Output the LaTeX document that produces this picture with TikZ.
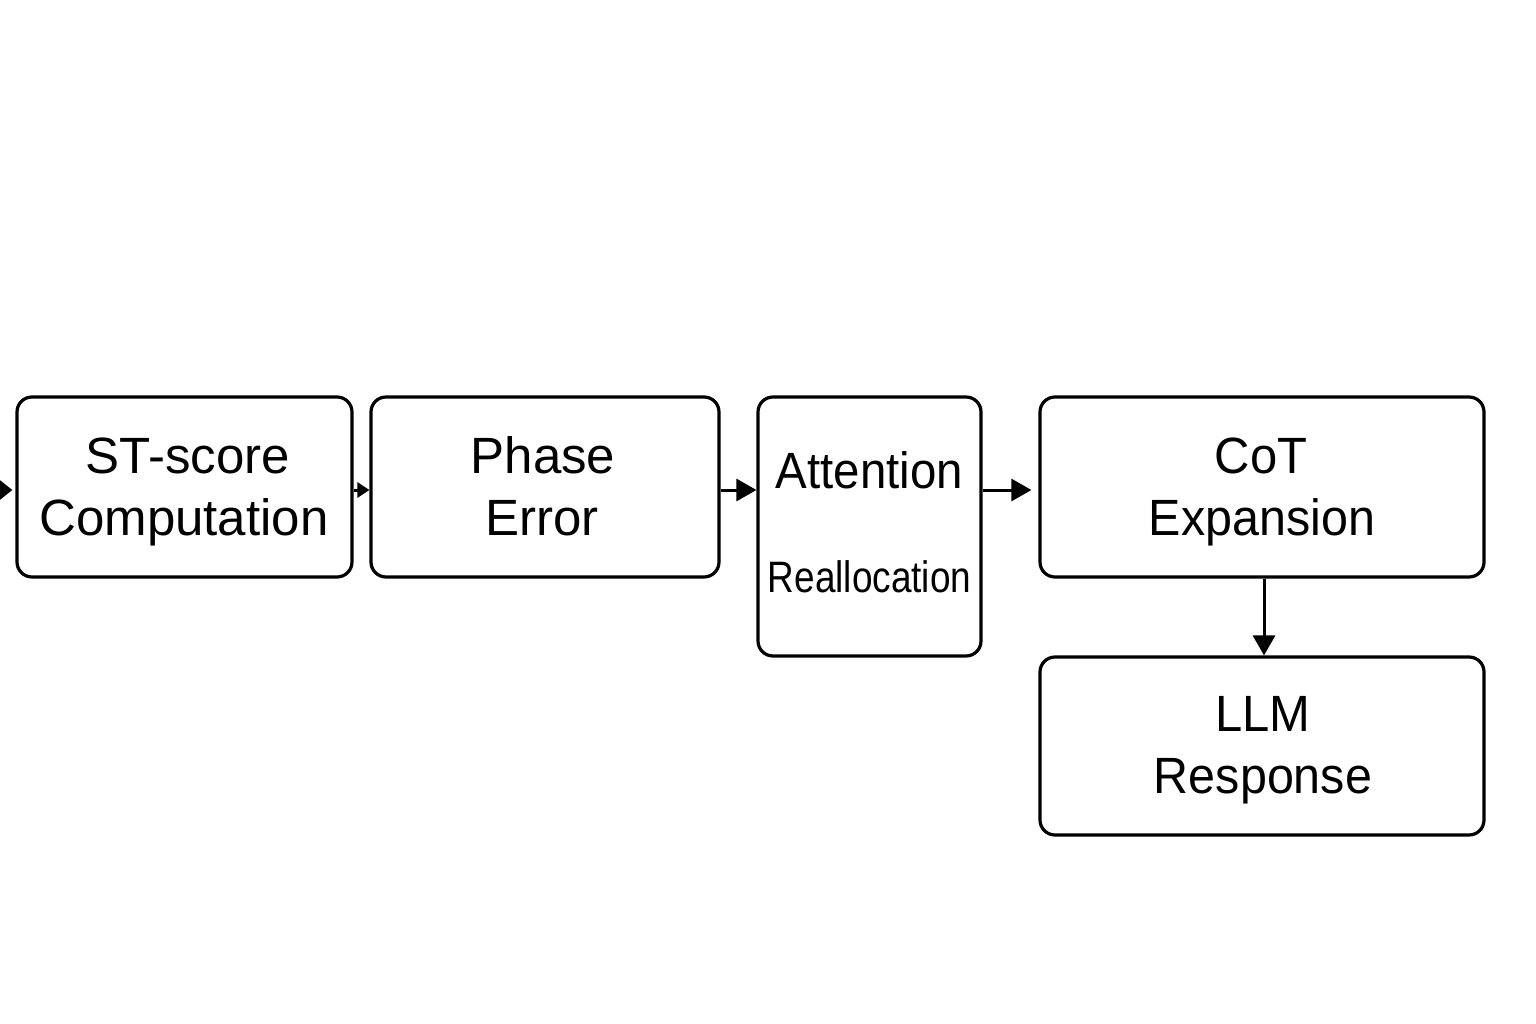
\documentclass[tikz,border=0pt]{standalone}
\usepackage{fontspec}
\setmainfont{Liberation Sans}
\usetikzlibrary{arrows.meta}
\tikzset{
  blk/.style={draw=black, line width=3.2pt, rounded corners=15pt, fill=white, inner sep=0pt},
  lbl/.style={inner sep=0pt, anchor=base, font=\fontsize{51}{62}\selectfont},
  conn/.style={line width=3pt, -{Triangle[length=20pt,width=22pt]}},
  smallconn/.style={line width=3pt, -{Triangle[length=12pt,width=15pt]}}
}
\begin{document}
\begin{tikzpicture}[x=1pt,y=-1pt]
\useasboundingbox (0,0) rectangle (1536,1024);
% boxes
\node[blk, minimum width=335pt, minimum height=180pt] (st) at (184.5,487) {};
\node[blk, minimum width=348pt, minimum height=180pt] (ph) at (545,487) {};
\node[blk, minimum width=223pt, minimum height=259pt] (at) at (869.5,526.5) {};
\node[blk, minimum width=444pt, minimum height=180pt] (cot) at (1262,487) {};
\node[blk, minimum width=444pt, minimum height=178pt] (llm) at (1262,746) {};
% labels
\node[lbl] (st1) at (188,473) {ST-score};
\node[lbl] (st2) at (184,535) {Computation};
\node[lbl] (ph1) at (543,473) {Phase};
\node[lbl] (ph2) at (542,535) {Error};
\node[lbl] (at1) at (869.5,488) {\scalebox{0.93}[1]{Attention}};
\node[lbl, font=\fontsize{44}{50}\selectfont] (at2) at (869.5,592) {\scalebox{0.84}[1]{Reallocation}};
\node[lbl] (cot1) at (1261,473) {\scalebox{0.96}[1]{CoT}};
\node[lbl] (cot2) at (1262,535) {\scalebox{0.95}[1]{Expansion}};
\node[lbl] (llm1) at (1263,731) {\scalebox{0.96}[1]{LLM}};
\node[lbl] (llm2) at (1263,793) {\scalebox{0.95}[1]{Response}};
% connectors
\coordinate (in) at (-30,490);
\draw[line width=3pt, -{Triangle[length=22pt,width=34pt]}, shorten >=3pt] (in) -- (st.west |- 0,490);
\draw[smallconn] (st.east |- 0,490) -- (ph.west |- 0,490);
\draw[conn] (ph.east |- 0,490) -- (at.west |- 0,490);
\draw[conn, shorten >=7pt] (at.east |- 0,490) -- (cot.west |- 0,490);
\draw[conn] (cot.south -| 1264,0) -- (llm.north -| 1264,0);
\end{tikzpicture}
\end{document}
